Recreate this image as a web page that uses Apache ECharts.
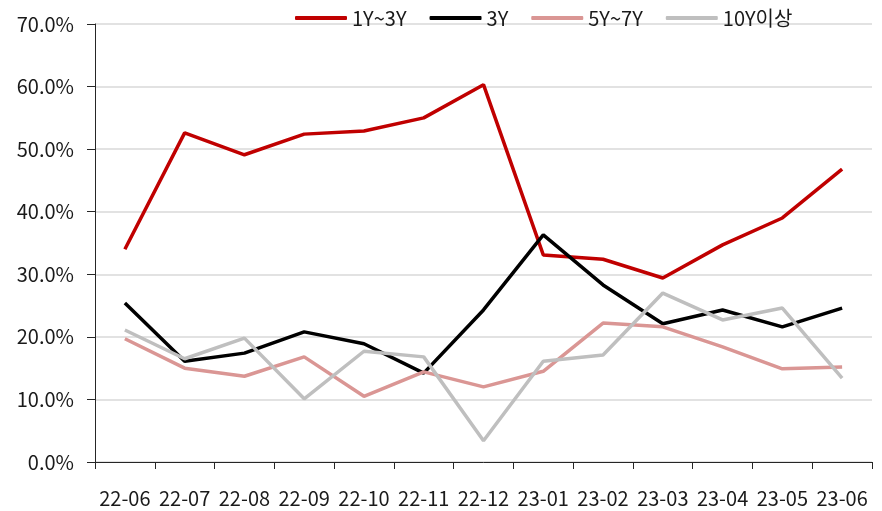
<!DOCTYPE html>
<html>
<head>
<meta charset="utf-8">
<script src="https://cdn.jsdelivr.net/npm/echarts@6/dist/echarts.min.js"></script>
<style>
  html, body { margin: 0; padding: 0; background: #fff; }
  #chart { width: 882px; height: 511px; }
</style>
</head>
<body>
<div id="chart"></div>
<script>
// 월별 카테고리
const months = ['22-06', '22-07', '22-08', '22-09', '22-10', '22-11', '22-12', '23-01', '23-02', '23-03', '23-04', '23-05', '23-06'];

// 만기별 비중 (%)
const y1to3 = [34.0, 52.6, 49.1, 52.4, 52.9, 55.0, 60.3, 33.1, 32.4, 29.4, 34.7, 39.0, 46.8];
const y3 = [25.4, 16.1, 17.4, 20.8, 18.9, 14.2, 24.3, 36.3, 28.3, 22.1, 24.3, 21.6, 24.6];
const y5to7 = [19.7, 15.0, 13.7, 16.8, 10.5, 14.4, 12.0, 14.5, 22.2, 21.6, 18.4, 14.9, 15.2];
const y10plus = [21.1, 16.5, 19.8, 10.1, 17.7, 16.8, 3.4, 16.1, 17.1, 27.0, 22.7, 24.6, 13.4];

const seriesNames = ['1Y~3Y', '3Y', '5Y~7Y', '10Y이상'];
const seriesColors = ['#C00000', '#000000', '#DA9694', '#BFBFBF'];
const seriesData = [y1to3, y3, y5to7, y10plus];

const font = '"Noto Sans CJK KR", "Noto Sans", sans-serif';
const textColor = '#1a1a1a';

const chart = echarts.init(document.getElementById('chart'));

const option = {
    animation: false,
    textStyle: { fontFamily: font },
    grid: { left: 95, right: 10, top: 24, bottom: 49 },
    legend: {
        left: 290,
        top: 3,
        itemWidth: 52,
        itemHeight: 4,
        itemGap: 23,
        icon: 'roundRect',
        textStyle: { fontSize: 20, color: textColor, fontFamily: font, padding: [12, 0, 0, 0] },
        data: seriesNames
    },
    xAxis: {
        type: 'category',
        data: months,
        boundaryGap: true,
        axisLine: { lineStyle: { color: '#262626', width: 1 } },
        axisTick: { show: true, length: 7, inside: false, lineStyle: { color: '#262626' } },
        axisLabel: { fontSize: 20, color: textColor, margin: 26, interval: 0 },
        splitLine: { show: false }
    },
    yAxis: {
        type: 'value',
        min: 0,
        max: 70,
        interval: 10,
        axisLine: { show: true, lineStyle: { color: '#262626', width: 1 } },
        axisTick: { show: true, length: 8, lineStyle: { color: '#262626' } },
        axisLabel: {
            fontSize: 20,
            color: textColor,
            margin: 21,
            formatter: v => v.toFixed(1) + '%'
        },
        splitLine: { lineStyle: { color: '#D9D9D9', width: 1.5 } }
    },
    series: seriesNames.map((name, i) => ({
        name: name,
        type: 'line',
        data: seriesData[i],
        showSymbol: false,
        symbol: 'none',
        lineStyle: { color: seriesColors[i], width: 3.5 },
        itemStyle: { color: seriesColors[i] }
    }))
};

chart.setOption(option);
</script>
</body>
</html>
